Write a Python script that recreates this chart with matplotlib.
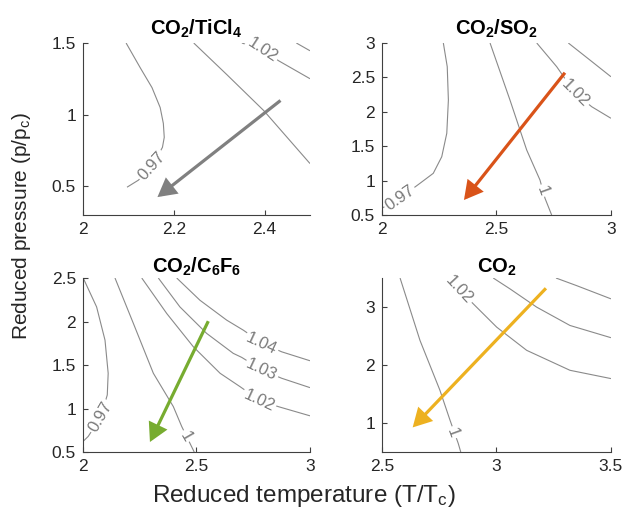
import matplotlib
matplotlib.use("Agg")
import matplotlib.pyplot as plt
from matplotlib.patches import FancyArrowPatch

plt.rcParams['font.family'] = ['Liberation Sans', 'DejaVu Sans']
plt.rcParams['mathtext.fontset'] = 'custom'
plt.rcParams['mathtext.rm'] = 'Liberation Sans'
plt.rcParams['mathtext.it'] = 'Liberation Sans:italic'
plt.rcParams['mathtext.bf'] = 'Liberation Sans:bold'

# ---------------- data ----------------
titles = [r'$\mathbf{CO_2/TiCl_4}$', r'$\mathbf{CO_2/SO_2}$',
          r'$\mathbf{CO_2/C_6F_6}$', r'$\mathbf{CO_2}$']

# Panel 1: CO2/TiCl4
tic_xlim = (2.0, 2.5); tic_ylim = (0.3, 1.5)
tic_xticks = [2.0, 2.2, 2.4]; tic_xticklabels = ['2', '2.2', '2.4']
tic_yticks = [0.5, 1.0, 1.5]; tic_yticklabels = ['0.5', '1', '1.5']
tic_c097_x = [2.095, 2.126, 2.152, 2.170, 2.177, 2.179, 2.175, 2.152, 2.122, 2.097]
tic_c097_y = [1.5, 1.328, 1.189, 1.05, 0.939, 0.842, 0.772, 0.64, 0.543, 0.494]
tic_c100_x = [2.244, 2.317, 2.398, 2.5]
tic_c100_y = [1.5, 1.279, 1.029, 0.659]
tic_c102_x = [2.35, 2.395, 2.431, 2.5]
tic_c102_y = [1.5, 1.453, 1.376, 1.251]
tic_c104_x = [2.47, 2.5]
tic_c104_y = [1.5, 1.446]
tic_labels = [('0.97', 2.152, 0.64, 48), ('1.02', 2.395, 1.453, -33)]
tic_arrow = (2.435, 1.099, 2.164, 0.425)

# Panel 2: CO2/SO2
so2_xlim = (2.0, 3.0); so2_ylim = (0.5, 3.0)
so2_xticks = [2.0, 2.5, 3.0]; so2_xticklabels = ['2', '2.5', '3']
so2_yticks = [0.5, 1.0, 1.5, 2.0, 2.5, 3.0]
so2_yticklabels = ['0.5', '1', '1.5', '2', '2.5', '3']
so2_c097_x = [2.268, 2.285, 2.290, 2.283, 2.261, 2.224, 2.166, 2.079, 2.0]
so2_c097_y = [3.0, 2.656, 2.171, 1.688, 1.347, 1.106, 0.961, 0.747, 0.6]
so2_c100_x = [2.472, 2.559, 2.632, 2.690, 2.712, 2.741]
so2_c100_y = [3.0, 2.171, 1.445, 1.009, 0.743, 0.5]
so2_c102_x = [2.676, 2.763, 2.843, 2.916, 3.0]
so2_c102_y = [3.0, 2.656, 2.273, 2.074, 1.906]
so2_c104_x = [2.814, 2.908, 3.0]
so2_c104_y = [3.0, 2.753, 2.51]
so2_labels = [('0.97', 2.079, 0.747, 35), ('1', 2.703, 0.855, -70),
              ('1.02', 2.843, 2.269, -45)]
so2_arrow = (2.799, 2.568, 2.358, 0.718)

# Panel 3: CO2/C6F6
c6f6_xlim = (2.0, 3.0); c6f6_ylim = (0.5, 2.5)
c6f6_xticks = [2.0, 2.5, 3.0]; c6f6_xticklabels = ['2', '2.5', '3']
c6f6_yticks = [0.5, 1.0, 1.5, 2.0, 2.5]
c6f6_yticklabels = ['0.5', '1', '1.5', '2', '2.5']
c6f6_c097_x = [2.001, 2.060, 2.097, 2.111, 2.107, 2.078, 2.023, 2.0]
c6f6_c097_y = [2.5, 2.168, 1.786, 1.405, 1.156, 0.901, 0.679, 0.621]
c6f6_c100_x = [2.141, 2.222, 2.310, 2.398, 2.435, 2.490]
c6f6_c100_y = [2.5, 1.978, 1.405, 1.022, 0.793, 0.5]
c6f6_c102_x = [2.259, 2.369, 2.486, 2.604, 2.692, 2.775, 2.860, 3.0]
c6f6_c102_y = [2.5, 2.092, 1.710, 1.405, 1.251, 1.099, 1.022, 0.916]
c6f6_c103_x = [2.332, 2.427, 2.545, 2.662, 2.699, 2.789, 2.875, 3.0]
c6f6_c103_y = [2.5, 2.168, 1.863, 1.634, 1.588, 1.443, 1.348, 1.240]
c6f6_c104_x = [2.413, 2.515, 2.633, 2.706, 2.789, 2.875, 3.0]
c6f6_c104_y = [2.5, 2.245, 2.016, 1.901, 1.752, 1.652, 1.549]
c6f6_labels = [('0.97', 2.078, 0.901, 60), ('1', 2.452, 0.679, -60),
               ('1.02', 2.775, 1.088, -25), ('1.03', 2.787, 1.443, -25),
               ('1.04', 2.787, 1.741, -25)]
c6f6_arrow = (2.552, 2.004, 2.295, 0.615)

# Panel 4: CO2
co2_xlim = (2.5, 3.5); co2_ylim = (0.5, 3.5)
co2_xticks = [2.5, 3.0, 3.5]; co2_xticklabels = ['2.5', '3', '3.5']
co2_yticks = [1.0, 2.0, 3.0]; co2_yticklabels = ['1', '2', '3']
co2_c100_x = [2.579, 2.666, 2.753, 2.797, 2.833, 2.844]
co2_c100_y = [3.5, 2.424, 1.565, 1.05, 0.649, 0.5]
co2_c102_x = [2.841, 2.906, 3.001, 3.132, 3.321, 3.5]
co2_c102_y = [3.283, 3.026, 2.653, 2.253, 1.909, 1.766]
co2_c104_x = [2.986, 3.059, 3.176, 3.321, 3.5]
co2_c104_y = [3.5, 3.313, 2.997, 2.682, 2.471]
co2_c106_x = [3.260, 3.350, 3.5]
co2_c106_y = [3.5, 3.369, 3.141]
co2_labels = [('1', 2.808, 0.83, -70), ('1.02', 2.835, 3.29, -47)]
co2_arrow = (3.216, 3.323, 2.634, 0.924)

arrow_colors = ['#808080', '#D95319', '#77AC30', '#EDB120']

# ---------------- figure ----------------
fig = plt.figure(figsize=(6.32, 5.14), dpi=100)
positions = [[0.1313, 0.5817, 0.3592, 0.3346],
             [0.6044, 0.5817, 0.3623, 0.3346],
             [0.1313, 0.1206, 0.3592, 0.3385],
             [0.6044, 0.1206, 0.3623, 0.3385]]
title_pads = [6.0, 6.0, 4.0, 4.0]

panels = [
    (tic_xlim, tic_ylim, tic_xticks, tic_xticklabels, tic_yticks, tic_yticklabels,
     [(tic_c097_x, tic_c097_y), (tic_c100_x, tic_c100_y),
      (tic_c102_x, tic_c102_y), (tic_c104_x, tic_c104_y)], tic_labels, tic_arrow),
    (so2_xlim, so2_ylim, so2_xticks, so2_xticklabels, so2_yticks, so2_yticklabels,
     [(so2_c097_x, so2_c097_y), (so2_c100_x, so2_c100_y),
      (so2_c102_x, so2_c102_y), (so2_c104_x, so2_c104_y)], so2_labels, so2_arrow),
    (c6f6_xlim, c6f6_ylim, c6f6_xticks, c6f6_xticklabels, c6f6_yticks, c6f6_yticklabels,
     [(c6f6_c097_x, c6f6_c097_y), (c6f6_c100_x, c6f6_c100_y),
      (c6f6_c102_x, c6f6_c102_y), (c6f6_c103_x, c6f6_c103_y),
      (c6f6_c104_x, c6f6_c104_y)], c6f6_labels, c6f6_arrow),
    (co2_xlim, co2_ylim, co2_xticks, co2_xticklabels, co2_yticks, co2_yticklabels,
     [(co2_c100_x, co2_c100_y), (co2_c102_x, co2_c102_y),
      (co2_c104_x, co2_c104_y), (co2_c106_x, co2_c106_y)], co2_labels, co2_arrow),
]

line_grey = '#8a8a8a'
axis_col = '#404040'

for i, (xl, yl, xt, xtl, yt, ytl, lines, labels, arr) in enumerate(panels):
    ax = fig.add_axes(positions[i])
    for lx, ly in lines:
        ax.plot(lx, ly, color=line_grey, lw=0.8, zorder=1.5, solid_capstyle='butt')
    for txt, tx, ty, rot in labels:
        ax.text(tx, ty, txt, rotation=rot, rotation_mode='anchor',
                ha='center', va='center', fontsize=12, color='#7a7a7a', zorder=2,
                bbox=dict(boxstyle='square,pad=0.1', fc='white', ec='none'))
    x0, y0, x1, y1 = arr
    ax.add_patch(FancyArrowPatch((x0, y0), (x1, y1),
                                 arrowstyle='-|>,head_length=1.0,head_width=0.55',
                                 mutation_scale=10, color=arrow_colors[i],
                                 lw=2.3, shrinkA=0, shrinkB=0, zorder=3,
                                 joinstyle='miter', capstyle='butt'))
    ax.set_xlim(xl)
    ax.set_ylim(yl)
    ax.set_xticks(xt)
    ax.set_xticklabels(xtl)
    ax.set_yticks(yt)
    ax.set_yticklabels(ytl)
    for s in ['top', 'right']:
        ax.spines[s].set_visible(False)
    for s in ['left', 'bottom']:
        ax.spines[s].set_color(axis_col)
        ax.spines[s].set_linewidth(0.8)
    ax.tick_params(direction='in', length=3.5, width=0.8, color=axis_col,
                   labelsize=12.5, labelcolor='#262626', pad=5)
    ax.set_title(titles[i], fontsize=14.5, pad=title_pads[i], color='black')

fig.text(0.034, 0.56, r'Reduced pressure (p/p$_\mathrm{c}$)', rotation=90,
         ha='center', va='center', fontsize=15, color='#262626')
fig.text(0.481, 0.024, r'Reduced temperature (T/T$_\mathrm{c}$)',
         ha='center', va='baseline', fontsize=17.5, color='#262626')

fig.savefig('out.png', dpi=100)
